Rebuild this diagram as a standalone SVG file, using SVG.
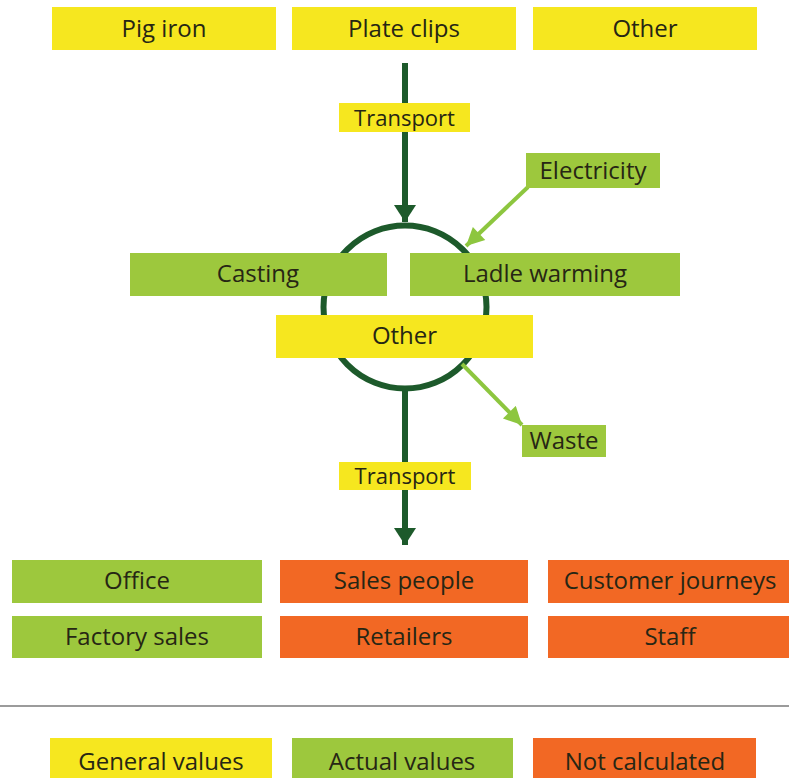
<svg xmlns="http://www.w3.org/2000/svg" width="789" height="778" viewBox="0 0 789 778">
  <style>
    .y { fill: #f6e71f; }
    .g { fill: #9dc83d; }
    .o { fill: #f26824; }
    text { font-family: "Open Sans", "DejaVu Sans", sans-serif; font-size: 24px; fill: #262614; text-anchor: middle; dominant-baseline: central; }
    .main { stroke: #1d5a2b; stroke-width: 6; fill: none; }
    .side { stroke: #8dc63f; stroke-width: 4; fill: none; }
  </style>
  <defs>
    <marker id="ahDark" markerUnits="userSpaceOnUse" markerWidth="28" markerHeight="22" refX="20" refY="13" orient="auto" viewBox="0 0 20 26">
      <path d="M0,0 L20,13 L0,26 Z" fill="#1d5a2b"/>
    </marker>
    <marker id="ahLight" markerUnits="userSpaceOnUse" markerWidth="20" markerHeight="18" refX="18" refY="9" orient="auto" viewBox="0 0 18 18">
      <path d="M0,0 L18,9 L0,18 Z" fill="#8dc63f"/>
    </marker>
  </defs>

  <g id="connectors">
    <line class="main" x1="405" y1="63" x2="405" y2="222" marker-end="url(#ahDark)"/>
    <circle class="main" cx="405" cy="307" r="81.5"/>
    <line class="main" x1="405" y1="388" x2="405" y2="545" marker-end="url(#ahDark)"/>
    <line class="side" x1="528" y1="187" x2="466" y2="246" marker-end="url(#ahLight)"/>
    <line class="side" x1="462" y1="364" x2="522" y2="425" marker-end="url(#ahLight)"/>
  </g>

  <g id="pig-iron"><rect class="y" x="52" y="7" width="224" height="43"/><text x="164" y="27">Pig iron</text></g>
  <g id="plate-clips"><rect class="y" x="292" y="7" width="224" height="43"/><text x="404" y="27">Plate clips</text></g>
  <g id="other-top"><rect class="y" x="533" y="7" width="224" height="43"/><text x="645" y="27">Other</text></g>

  <g id="transport-1"><rect class="y" x="339" y="103" width="131" height="29"/><text x="404.5" y="116.5" style="font-size:22px">Transport</text></g>

  <g id="electricity"><rect class="g" x="526" y="153" width="134" height="35"/><text x="593" y="169.5">Electricity</text></g>

  <g id="casting"><rect class="g" x="130" y="253" width="257" height="43"/><text x="258" y="272">Casting</text></g>
  <g id="ladle-warming"><rect class="g" x="410" y="253" width="270" height="43"/><text x="545" y="272">Ladle warming</text></g>
  <g id="other-mid"><rect class="y" x="276" y="315" width="257" height="43"/><text x="404.5" y="334">Other</text></g>

  <g id="waste"><rect class="g" x="522" y="425" width="84" height="32"/><text x="564" y="439">Waste</text></g>

  <g id="transport-2"><rect class="y" x="339" y="462" width="132" height="28"/><text x="405" y="474.5" style="font-size:22px">Transport</text></g>

  <g id="office"><rect class="g" x="12" y="560" width="250" height="43"/><text x="137" y="579">Office</text></g>
  <g id="sales-people"><rect class="o" x="280" y="560" width="248" height="43"/><text x="404" y="579">Sales people</text></g>
  <g id="customer-journeys"><rect class="o" x="548" y="560" width="241" height="43"/><text x="670" y="579">Customer journeys</text></g>
  <g id="factory-sales"><rect class="g" x="12" y="616" width="250" height="42"/><text x="137" y="635">Factory sales</text></g>
  <g id="retailers"><rect class="o" x="280" y="616" width="248" height="42"/><text x="404" y="635">Retailers</text></g>
  <g id="staff"><rect class="o" x="548" y="616" width="241" height="42"/><text x="670" y="635">Staff</text></g>

  <line x1="0" y1="706" x2="789" y2="706" stroke="#7a7a7a" stroke-width="1.5"/>

  <g id="legend-general"><rect class="y" x="50" y="738" width="222" height="42"/><text x="161" y="760">General values</text></g>
  <g id="legend-actual"><rect class="g" x="292" y="738" width="221" height="42"/><text x="402" y="760">Actual values</text></g>
  <g id="legend-not"><rect class="o" x="533" y="738" width="223" height="42"/><text x="645" y="760">Not calculated</text></g>
</svg>
